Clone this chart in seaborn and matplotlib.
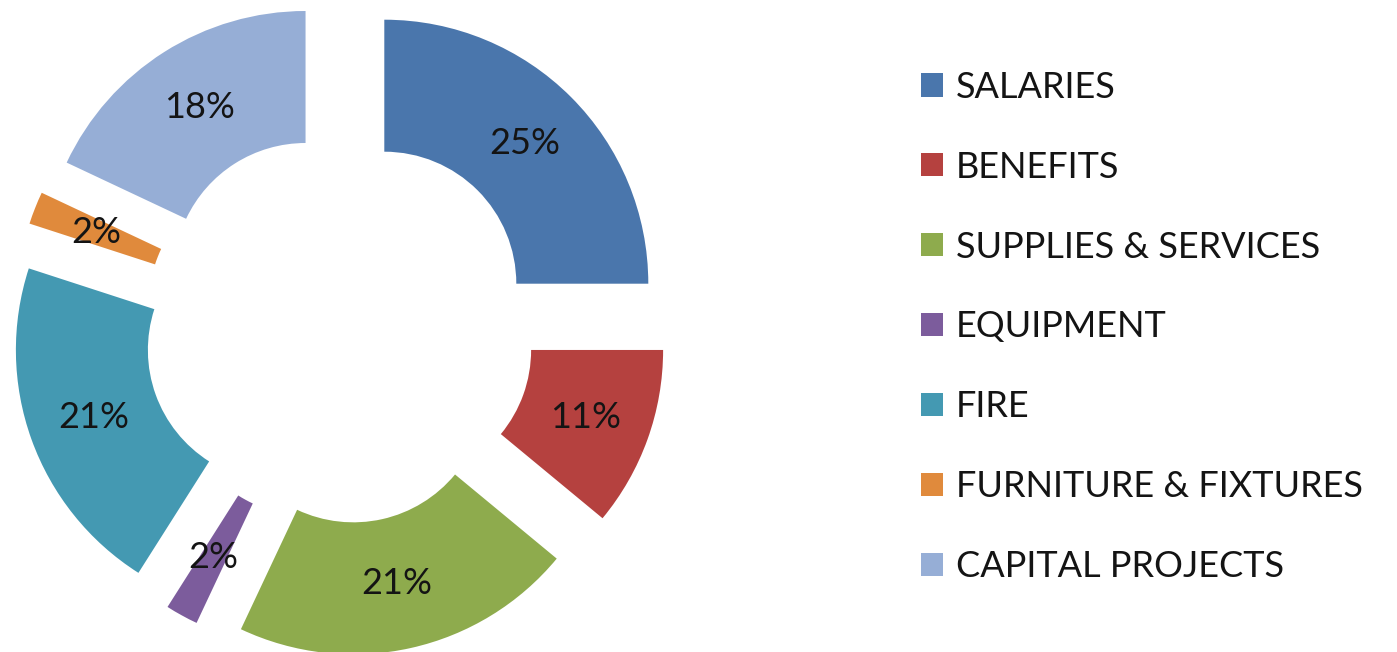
import matplotlib
matplotlib.use("Agg")

import matplotlib.pyplot as plt
import seaborn as sns

# Budget shares (percent), clockwise from 12 o'clock
categories = ["SALARIES", "BENEFITS", "SUPPLIES & SERVICES", "EQUIPMENT",
              "FIRE", "FURNITURE & FIXTURES", "CAPITAL PROJECTS"]
shares = [25, 11, 21, 2, 21, 2, 18]
colors = ["#4A76AC", "#B5413F", "#8EAB4D", "#7C5C9C",
          "#4499B2", "#E08A3C", "#96AED6"]

sns.set_theme(style="white")
plt.rcParams["font.family"] = ["Lato", "DejaVu Sans"]
palette = sns.color_palette(colors)

W, H = 1397, 652
fig = plt.figure(figsize=(W / 100, H / 100), dpi=100)
ax = fig.add_axes([0, 0, 1, 1])

wedges, texts, autotexts = ax.pie(
    shares,
    colors=palette,
    startangle=90,
    counterclock=False,
    explode=[0.24] * len(shares),
    autopct="%.0f%%",
    pctdistance=0.75,
    wedgeprops=dict(width=0.5, linewidth=0),
    textprops=dict(fontsize=26, color="#141414"),
)

# place the pie: center ~ (339, 328) px, radius ~ 264 px
R, cx, cy = 264.0, 339.5, 328.5
ax.set_xlim(-cx / R, (W - cx) / R)
ax.set_ylim(-(H - cy) / R, cy / R)
ax.set_aspect("equal")
ax.axis("off")

fig.legend(
    wedges, categories,
    loc="center left", bbox_to_anchor=(921 / W, 1 - 327 / H),
    frameon=False, fontsize=26,
    handlelength=0.61, handleheight=0.61, handletextpad=0.36,
    labelspacing=1.3, borderpad=0, borderaxespad=0,
    labelcolor="#141414",
)

fig.savefig("out.png", dpi=100, facecolor="white")
